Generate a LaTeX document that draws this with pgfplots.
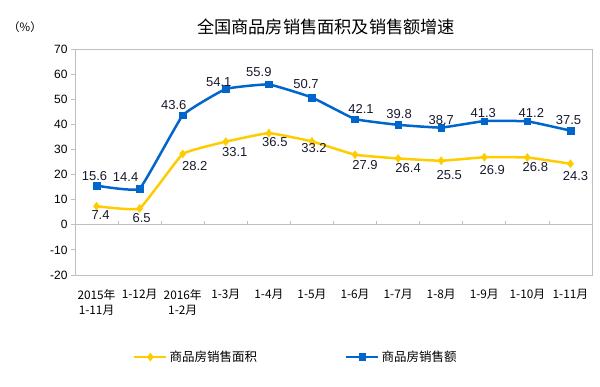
\documentclass[border=0pt]{standalone}
\usepackage{pgfplots}
\usepackage{pgfplotstable}
\pgfplotsset{compat=1.18}
\usepackage{fontspec}
\setmainfont{Liberation Sans}
\newfontfamily\cjk{Noto Sans CJK SC}
\definecolor{cYellow}{HTML}{FFCC00}
\definecolor{cBlue}{HTML}{0066CC}
\definecolor{cAxis}{HTML}{BFBFBF}
\definecolor{cText}{HTML}{1A1A2E}

\pgfplotstableread{
x y lab dx dy
0 15.6 15.6 -2 10
1 14.4 14.4 -14 12
2 43.6 43.6 -9 10
3 54.1 54.1 -7 7
4 55.9 55.9 -10 12
5 50.7 50.7 -6 13
6 42.1 42.1 6 10
7 39.8 39.8 1 11
8 38.7 38.7 0 8
9 41.3 41.3 -1 8
10 41.2 41.2 4 8
11 37.5 37.5 -2 11
}\bluedata

\pgfplotstableread{
x y lab dx dy
0 7.4 7.4 4 -9
1 6.5 6.5 2 -10
2 28.2 28.2 12 -12
3 33.1 33.1 9 -10
4 36.5 36.5 6 -9
5 33.2 33.2 2 -7
6 27.9 27.9 10 -10
7 26.4 26.4 10 -10
8 25.5 25.5 8 -14
9 26.9 26.9 8 -13
10 26.8 26.8 8 -10
11 24.3 24.3 5 -12
}\yellowdata

\begin{document}
\begin{tikzpicture}
\useasboundingbox (0pt,0pt) rectangle (600pt,386pt);
\node[font=\cjk\fontsize{17.2}{17.2}\selectfont, text=black] at (326pt,359pt) {全国商品房销售面积及销售额增速};
\node[font=\cjk\fontsize{11.5}{11.5}\selectfont, text=black] at (25pt,359pt) {（\%）};
\begin{axis}[
  at={(75pt,111pt)}, anchor=south west,
  width=517pt, height=226pt, scale only axis,
  xmin=-0.5, xmax=11.5, ymin=-20, ymax=70,
  ytick={-20,-10,0,10,20,30,40,50,60,70},
  xtick={0,...,11},
  xticklabels={{2015年\\1-11月},1-12月,{2016年\\1-2月},1-3月,1-4月,1-5月,1-6月,1-7月,1-8月,1-9月,1-10月,1-11月},
  x tick label style={font=\cjk\fontsize{11.8}{15.5}\selectfont, align=center, anchor=north, yshift=-7pt, text=black},
  y tick label style={font=\fontsize{12}{12}\selectfont, text=black},
  /pgf/number format/assume math mode=true,
  axis line style={cAxis, line width=0.8pt},
  x tick style={draw=none},
  y tick style={cAxis, line width=0.8pt},
  ytick pos=left,
  tick align=outside,
  major tick length=4pt,
  clip=false,
  legend style={draw=none, fill=none, inner sep=0pt, at={(0.112,-0.363)}, anchor=west,
    font=\cjk\fontsize{12.5}{12.5}\selectfont, text=black,
    /tikz/every even column/.append style={column sep=86pt}},
  legend columns=2,
  legend cell align=left,
  legend image code/.code={\draw[mark repeat=2,mark phase=2,#1] plot coordinates {(0pt,0pt) (16pt,0pt) (32pt,0pt)};},
]
\draw[cAxis, line width=0.8pt] (axis cs:-0.5,0) -- (axis cs:11.5,0);
\pgfplotsinvokeforeach{0.5,1.5,2.5,3.5,4.5,5.5,6.5,7.5,8.5,9.5,10.5}{
  \draw[cAxis, line width=0.8pt] (axis cs:#1,0) -- ++(0pt,4pt);
}
\addlegendimage{cYellow, line width=2.5pt, mark=diamond*, mark size=4pt, mark options={solid, fill=cYellow, line width=0.5pt}}
\addlegendentry{商品房销售面积}
\addlegendimage{cBlue, line width=2.5pt, mark=square*, mark size=3.3pt, mark options={solid, fill=cBlue, line width=0.5pt}}
\addlegendentry{商品房销售额}
\addplot[forget plot, cYellow, line width=2.5pt, smooth, tension=0.18, mark=diamond*, mark size=4pt, mark options={solid, fill=cYellow, line width=0.5pt},
  nodes near coords, point meta=explicit symbolic,
  visualization depends on={\thisrow{dx}\as\dx},
  visualization depends on={\thisrow{dy}\as\dy},
  every node near coord/.append style={font=\fontsize{13}{13}\selectfont, text=cText, anchor=center, inner sep=0pt, xshift=\dx*1pt, yshift=\dy*1pt}]
  table[x=x, y=y, meta=lab]{\yellowdata};
\addplot[forget plot, cBlue, line width=2.5pt, smooth, tension=0.18, mark=square*, mark size=3.3pt, mark options={solid, fill=cBlue, line width=0.5pt},
  nodes near coords, point meta=explicit symbolic,
  visualization depends on={\thisrow{dx}\as\dx},
  visualization depends on={\thisrow{dy}\as\dy},
  every node near coord/.append style={font=\fontsize{13}{13}\selectfont, text=cText, anchor=center, inner sep=0pt, xshift=\dx*1pt, yshift=\dy*1pt}]
  table[x=x, y=y, meta=lab]{\bluedata};
\end{axis}
\end{tikzpicture}
\end{document}
